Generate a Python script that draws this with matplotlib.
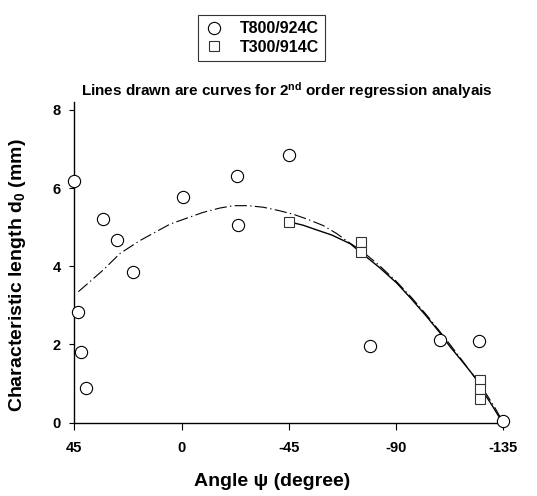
import matplotlib
matplotlib.use('Agg')
import matplotlib.pyplot as plt
import numpy as np

plt.rcParams['font.family'] = ['Liberation Sans', 'DejaVu Sans']
plt.rcParams['font.weight'] = 'bold'
plt.rcParams['mathtext.fontset'] = 'custom'
plt.rcParams['mathtext.rm'] = 'Liberation Sans:bold'
plt.rcParams['mathtext.it'] = 'Liberation Sans:bold'
plt.rcParams['mathtext.bf'] = 'Liberation Sans:bold'

# T800/924C measured points (angle psi, d0)
t800_psi = [45.0, 43.6, 42.2, 40.0, 33.0, 27.2, 20.5, -0.5, -23.3, -23.6,
            -45.0, -79.2, -108.6, -124.8, -135.0]
t800_d0 = [6.18, 2.83, 1.82, 0.88, 5.22, 4.66, 3.85, 5.78, 6.30, 5.06,
           6.84, 1.96, 2.12, 2.10, 0.04]

# T300/914C measured points
t300_psi = [-45.0, -75.4, -75.4, -125.4, -125.4, -125.4]
t300_d0 = [5.14, 4.61, 4.37, 1.08, 0.87, 0.60]

# regression curves
t800_fit_psi = [43.3, 32.8, 25.8, 17.4, 4.8, -9.1, -16.1, -21.7, -28.0, -34.3,
                -40.5, -46.9, -53.0, -59.5, -65.0, -70.7, -75.5, -83.0, -90.0,
                -96.5, -103.0, -108.0, -113.0, -118.0, -123.0, -128.0, -131.5, -135.0]
t800_fit_d0 = [3.35, 3.91, 4.33, 4.66, 5.08, 5.38, 5.49, 5.55, 5.55, 5.51,
               5.43, 5.33, 5.20, 5.04, 4.84, 4.59, 4.40, 4.02, 3.62,
               3.20, 2.74, 2.36, 1.97, 1.57, 1.16, 0.72, 0.38, 0.0]

t300_fit_psi = [-45.0, -51.0, -56.7, -63.0, -70.7, -75.7, -83.0, -90.3, -96.5,
                -102.9, -108.0, -112.7, -118.0, -123.1, -126.5, -130.5, -134.4]
t300_fit_d0 = [5.14, 5.05, 4.93, 4.80, 4.58, 4.33, 3.97, 3.57, 3.16,
               2.71, 2.33, 1.94, 1.55, 1.16, 0.80, 0.42, 0.03]

xticks = [45, 0, -45, -90, -135]
yticks = [0, 2, 4, 6, 8]

fig = plt.figure(figsize=(5.37, 4.96), dpi=100)
ax = fig.add_axes([0.1384, 0.1478, 0.7989, 0.6472])

ax.plot(t800_fit_psi, t800_fit_d0, color='black', lw=0.8,
        linestyle=(0, (11, 3, 1.2, 3)))
ax.plot(t300_fit_psi, t300_fit_d0, color='black', lw=1.0)

h1, = ax.plot(t800_psi, t800_d0, linestyle='none', marker='o', ms=8.8,
              mfc='white', mec='black', mew=0.8, label='T800/924C',
              clip_on=False, zorder=4)
h2, = ax.plot(t300_psi, t300_d0, linestyle='none', marker='s', ms=7.4,
              mfc='white', mec='#333333', mew=0.8, label='T300/914C',
              clip_on=False, zorder=4)

ax.set_xlim(45, -135)
ax.set_ylim(0, 8.21)
ax.set_xticks(xticks)
ax.set_yticks(yticks)
ax.set_xticklabels([str(v) for v in xticks])
ax.tick_params(axis='y', direction='out', length=3.6, width=0.8,
               labelsize=10.5, pad=6)
ax.tick_params(axis='x', direction='out', length=5, width=0.8,
               labelsize=10.5, pad=8)
for s in ['top', 'right']:
    ax.spines[s].set_visible(False)
for s in ['left', 'bottom']:
    ax.spines[s].set_linewidth(1.0)
for lab in ax.get_xticklabels() + ax.get_yticklabels():
    lab.set_fontweight('bold')

ax.set_xlabel('Angle \u03c8 (degree)', fontsize=14, fontweight='bold')
ax.set_ylabel('Characteristic length d$_0$ (mm)', fontsize=14,
              fontweight='bold')
ax.xaxis.set_label_coords(0.461, -0.157)
ax.yaxis.set_label_coords(-0.108, 0.46)

fig.text(81 / 537, 1 - 96 / 496,
         'Lines drawn are curves for 2$^{nd}$ order regression analyais',
         fontsize=11, fontweight='bold', ha='left', va='baseline')

leg = fig.legend(handles=[h1, h2], loc='center',
                 bbox_to_anchor=(261.5 / 537, 1 - 38 / 496),
                 frameon=True, fancybox=False, edgecolor='black',
                 prop={'size': 11.5, 'weight': 'bold'}, handlelength=1.2,
                 handletextpad=1.0, borderpad=0.4, labelspacing=0.2,
                 numpoints=1)
leg.get_frame().set_linewidth(0.8)

fig.savefig('out.png', dpi=100)
